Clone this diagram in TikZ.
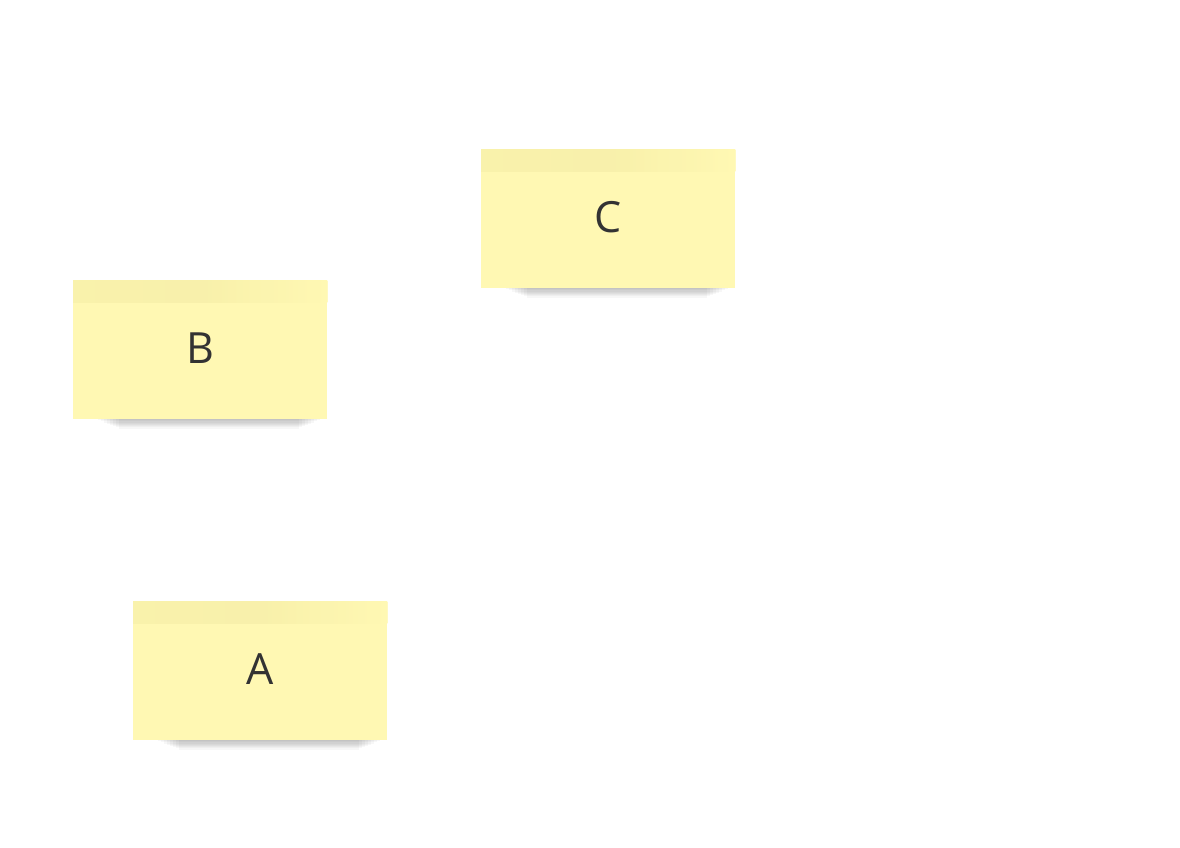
\documentclass[tikz,border=0pt]{standalone}
\usepackage{fontspec}
\setmainfont{Open Sans}
\usetikzlibrary{calc}
\definecolor{notefill}{HTML}{FFF8B3}
\definecolor{notetop}{HTML}{F4ECA5}
\definecolor{notetext}{HTML}{333333}
\tikzset{
  sticky/.style={draw=none, fill=notefill, minimum width=254pt, minimum height=139pt,
    inner sep=0pt, text=notetext},
  notelabel/.style={text=notetext, font=\fontsize{43}{48}\selectfont},
}
\newcommand{\notewithshadow}[4]{%
  % #1 name, #2 x (left), #3 y (top), #4 text
  \foreach \k in {1,...,8} {
    \fill[black, opacity=0.03] ($(#2+22+\k*3, #3+134)$) rectangle ($(#2+250-\k*3, #3+139+\k*1.2)$);
  }
  \node[sticky, anchor=north west] (#1) at (#2,#3) {};
  \shade[left color=notetop!60!notefill, right color=notefill, middle color=notetop!75!notefill, opacity=0.8]
    (#1.north west) rectangle ($(#1.north east)+(0,22)$);
  \node[notelabel] at ($(#1.center)+(0,-2)$) {#4};
}
\begin{document}
\begin{tikzpicture}[x=1pt, y=-1pt]
\useasboundingbox (0,0) rectangle (1180,847);
\fill[white] (0,0) rectangle (1180,847);
\notewithshadow{c}{481}{149}{C}
\notewithshadow{b}{73}{280}{B}
\notewithshadow{a}{133}{601}{A}
\end{tikzpicture}
\end{document}
